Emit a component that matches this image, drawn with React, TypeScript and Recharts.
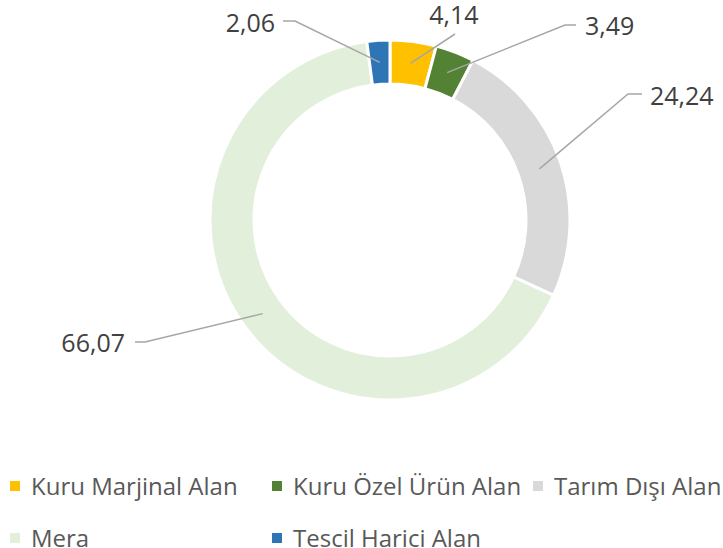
import React from 'react';
import { PieChart, Pie, Cell, Legend } from 'recharts';

const categories = ['Kuru Marjinal Alan', 'Kuru Özel Ürün Alan', 'Tarım Dışı Alan', 'Mera', 'Tescil Harici Alan'];
const values = [4.14, 3.49, 24.24, 66.07, 2.06];
const colors = ['#FFC000', '#548235', '#D9D9D9', '#E2EFDA', '#2E75B6'];

const chartData = categories.map((name, i) => ({ name, value: values[i] }));

// leader line elbows / text spots, relative to pie centre (hand placed like the original)
const labelLayout = [
    { ex: 65, ey: -186, h: 0, anchor: 'middle', tx: 64, ty: -196 },
    { ex: 175, ey: -195, h: 11, anchor: 'start', tx: 195, ty: -185 },
    { ex: 238, ey: -126, h: 14, anchor: 'start', tx: 260, ty: -115 },
    { ex: -245, ey: 122, h: -10, anchor: 'end', tx: -265, ty: 132 },
    { ex: -95, ey: -199, h: -12, anchor: 'end', tx: -115, ty: -188 }
];

const RAD = Math.PI / 180;
const FONT = '"Open Sans", sans-serif';

const formatValue = (v: number) => v.toFixed(2).replace('.', ',');

function renderLabel(props: any) {
    const { cx, cy, midAngle, innerRadius, outerRadius, index, value } = props;
    const lay = labelLayout[index];
    const r = (innerRadius + outerRadius) / 2;
    const sx = cx + r * Math.cos(-midAngle * RAD);
    const sy = cy + r * Math.sin(-midAngle * RAD);
    const ex = cx + lay.ex;
    const ey = cy + lay.ey;
    const points = `${sx},${sy} ${ex},${ey} ${ex + lay.h},${ey}`;
    return (
        <g key={`lbl-${index}`}>
            <polyline points={points} fill="none" stroke="#A6A6A6" strokeWidth={1.5} />
            <text
                x={cx + lay.tx}
                y={cy + lay.ty}
                textAnchor={lay.anchor}
                fill="#404040"
                fontSize={25}
                fontFamily={FONT}
            >
                {formatValue(value)}
            </text>
        </g>
    );
}

function renderLegend() {
    return (
        <div
            style={{
                display: 'grid',
                gridTemplateColumns: '262px 261px 200px',
                paddingLeft: 10,
                fontFamily: FONT,
                fontSize: 24,
                lineHeight: '20px',
                color: '#595959'
            }}
        >
            {categories.map((name, i) => (
                <div key={name} style={{ display: 'flex', alignItems: 'center', height: 52, whiteSpace: 'nowrap' }}>
                    <span style={{ width: 10, height: 10, background: colors[i], marginRight: 11, flexShrink: 0 }} />
                    <span>{name}</span>
                </div>
            ))}
        </div>
    );
}

export default function App() {
    return (
        <div style={{ position: 'absolute', left: 0, top: 0, width: 723, height: 548, background: '#fff', overflow: 'hidden' }}>
            <PieChart width={723} height={548} margin={{ top: 0, right: 0, bottom: 0, left: 0 }}>
                <Pie
                    data={chartData}
                    dataKey="value"
                    nameKey="name"
                    cx={390}
                    cy={220}
                    innerRadius={136}
                    outerRadius={180}
                    startAngle={90}
                    endAngle={-270}
                    stroke="#FFFFFF"
                    strokeWidth={3}
                    label={renderLabel}
                    labelLine={false}
                    isAnimationActive={false}
                >
                    {chartData.map((_, i) => (
                        <Cell key={`cell-${i}`} fill={colors[i]} />
                    ))}
                </Pie>
                <Legend
                    content={renderLegend}
                    wrapperStyle={{ position: 'absolute', left: 0, top: 460, width: 723 }}
                />
            </PieChart>
        </div>
    );
}
